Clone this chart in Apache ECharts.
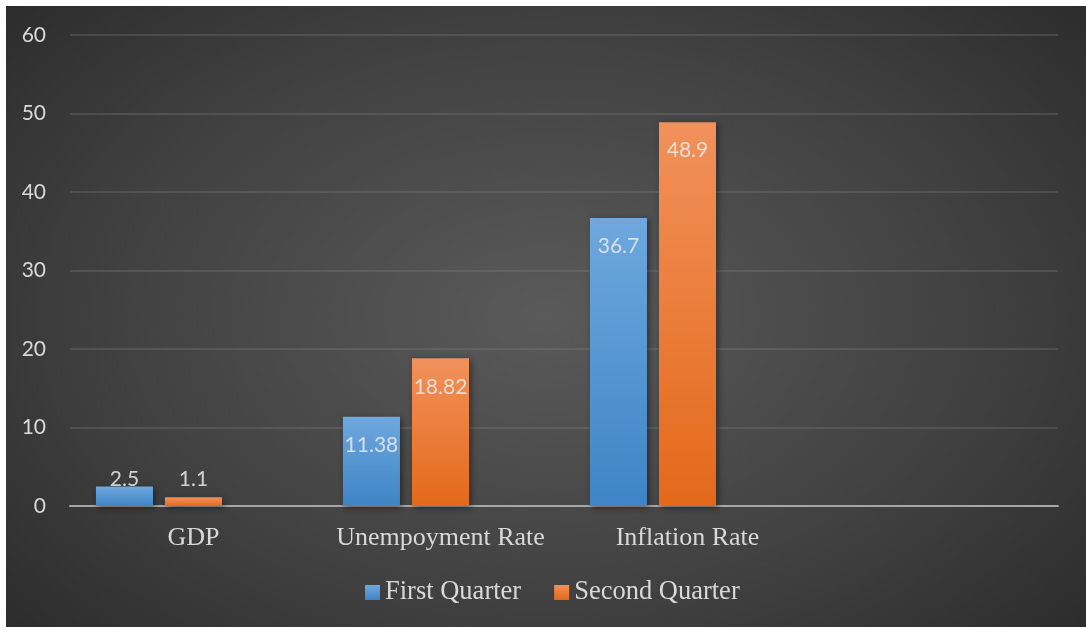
<!DOCTYPE html>
<html>
<head>
<meta charset="utf-8">
<script src="https://cdn.jsdelivr.net/npm/echarts@6/dist/echarts.min.js"></script>
<style>
  html, body { margin: 0; padding: 0; background: #ffffff; }
  #chart {
    position: absolute; left: 6px; top: 6px; width: 1080px; height: 621px;
    background: radial-gradient(ellipse 75% 85% at 50% 50%, #5a5a5a 0%, #404040 55%, #262626 100%);
  }
</style>
</head>
<body>
<div id="chart"></div>
<script>
// Quarterly indicators
const categories = ['GDP', 'Unempoyment Rate', 'Inflation Rate', ''];
const seriesNames = ['First Quarter', 'Second Quarter', 'Third Quarter'];
const firstQuarter = [2.5, 11.38, 36.7, null];
const secondQuarter = [1.1, 18.82, 48.9, null];
const thirdQuarter = [null, null, null, null];
const yTicks = { min: 0, max: 60, interval: 10 };

const labelFont = 'Lato, "Open Sans", sans-serif';
const serifFont = '"Liberation Serif", "DejaVu Serif", serif';

function grad(top, bottom) {
  return new echarts.graphic.LinearGradient(0, 0, 0, 1, [
    { offset: 0, color: top }, { offset: 1, color: bottom }
  ]);
}

// small bars carry their label just above the baseline, tall bars inside the top
function toItems(values) {
  return values.map(v => {
    if (v == null) return null;
    if (v < 5) {
      return { value: v, label: { position: 'insideBottom', distance: 16 } };
    }
    return { value: v };
  });
}

function barSeries(name, values, top, bottom) {
  return {
    name: name,
    type: 'bar',
    data: toItems(values),
    barGap: '21%',
    barCategoryGap: '21%',
    itemStyle: {
      color: grad(top, bottom),
      shadowColor: 'rgba(0,0,0,0.45)',
      shadowBlur: 6,
      shadowOffsetX: 2,
      shadowOffsetY: 2
    },
    label: {
      show: true,
      position: 'insideTop',
      distance: 18,
      color: 'rgba(235,235,235,0.85)',
      fontFamily: labelFont,
      fontSize: 21
    }
  };
}

const chart = echarts.init(document.getElementById('chart'));
chart.setOption({
  animation: false,
  grid: { left: 64, right: 28, top: 29, bottom: 121 },
  legend: {
    data: [seriesNames[0], seriesNames[1]],
    bottom: 16,
    left: 354,
    itemWidth: 15,
    itemHeight: 15,
    itemGap: 33,
    icon: 'rect',
    textStyle: { color: '#d9d9d9', fontFamily: serifFont, fontSize: 26.5 }
  },
  xAxis: {
    type: 'category',
    data: categories,
    axisLine: { lineStyle: { color: '#a6a6a6', width: 2 } },
    axisTick: { show: false },
    axisLabel: { interval: 0, color: '#d9d9d9', fontFamily: serifFont, fontSize: 26, margin: 19 }
  },
  yAxis: {
    type: 'value',
    min: yTicks.min,
    max: yTicks.max,
    interval: yTicks.interval,
    axisLine: { show: false },
    axisTick: { show: false },
    axisLabel: { color: '#d9d9d9', fontFamily: labelFont, fontSize: 21, margin: 24 },
    splitLine: { lineStyle: { color: 'rgba(140,140,140,0.35)', width: 1.5 } }
  },
  series: [
    barSeries(seriesNames[0], firstQuarter, '#6ea8de', '#3e84c6'),
    barSeries(seriesNames[1], secondQuarter, '#f1915b', '#e4691a'),
    barSeries(seriesNames[2], thirdQuarter, '#a5a5a5', '#8c8c8c')
  ]
});
</script>
</body>
</html>
